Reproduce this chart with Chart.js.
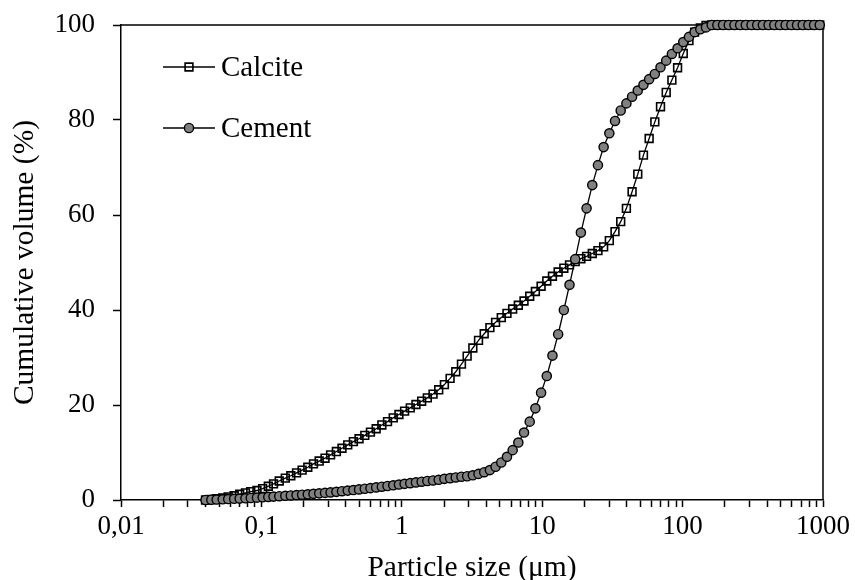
<!DOCTYPE html>
<html lang="en">
<head>
<meta charset="UTF-8">
<title>Cumulative volume - Calcite / Cement</title>
<script src="https://cdn.jsdelivr.net/npm/chart.js"></script>
<style>
  html, body { margin: 0; padding: 0; background: #fff; }
  #wrap { width: 855px; height: 580px; }
</style>
</head>
<body>
<div id="wrap"><canvas id="psdChart" width="855" height="580"></canvas></div>
<script>
// particle size classes (um)
const sizes = [
  0.04, 0.044, 0.048, 0.053, 0.058, 0.064, 0.070, 0.077, 0.084, 0.093,
  0.102, 0.112, 0.122, 0.134, 0.148, 0.162, 0.178, 0.195, 0.214, 0.235,
  0.258, 0.284, 0.311, 0.342, 0.375, 0.412, 0.452, 0.496, 0.545, 0.598,
  0.657, 0.721, 0.791, 0.869, 0.954,
  1.047, 1.149, 1.261, 1.385, 1.520, 1.669, 1.832, 2.011, 2.208, 2.423,
  2.660, 2.920, 3.206, 3.519, 3.863, 4.241, 4.656, 5.111, 5.611, 6.159,
  6.761, 7.422, 8.148, 8.944, 9.819,
  10.78, 11.83, 12.99, 14.26, 15.65, 17.18, 18.86, 20.71, 22.73, 24.95,
  27.39, 30.07, 33.01, 36.24, 39.78, 43.67, 47.94, 52.62, 57.77, 63.41,
  69.61, 76.42, 83.89, 92.09,
  101.1, 111.0, 121.8, 133.7, 146.8, 161.2, 176.8, 194.2, 213.2, 234.1,
  256.9, 282.1, 309.6, 339.9, 373.1, 409.6, 449.7, 493.6, 541.9, 594.9,
  653.0, 716.9, 786.9, 863.9, 948.3
];

const calcite = [
  0.0, 0.1, 0.25, 0.45, 0.65, 0.9, 1.2, 1.5, 1.75, 2.0,
  2.4, 2.9, 3.4, 4.0, 4.6, 5.1, 5.7, 6.3, 6.9, 7.6,
  8.2, 8.8, 9.5, 10.2, 10.9, 11.6, 12.3, 12.9, 13.6, 14.3,
  15.0, 15.8, 16.5, 17.3, 18.0,
  18.7, 19.4, 20.1, 20.8, 21.5, 22.3, 23.2, 24.3, 25.6, 27.0,
  28.6, 30.3, 32.0, 33.6, 35.0, 36.3, 37.4, 38.4, 39.3, 40.2,
  41.0, 41.9, 42.9, 43.9, 45.0,
  46.1, 47.1, 48.0, 48.8, 49.5, 50.2, 50.8, 51.3, 51.9, 52.5,
  53.3, 54.6, 56.5, 58.6, 61.4, 64.9, 68.6, 72.6, 76.1, 79.6,
  82.8, 85.8, 88.4, 91.0,
  94.0, 96.7, 98.5, 99.4, 99.9, 100, 100, 100, 100, 100,
  100, 100, 100, 100, 100, 100, 100, 100, 100, 100,
  100, 100, 100, 100, 100
];

const cement = [
  0.0, 0.05, 0.1, 0.15, 0.2, 0.25, 0.3, 0.36, 0.42, 0.5,
  0.57, 0.65, 0.72, 0.8, 0.88, 0.96, 1.04, 1.12, 1.2, 1.3,
  1.4, 1.5, 1.6, 1.72, 1.85, 1.98, 2.1, 2.23, 2.37, 2.5,
  2.65, 2.8, 2.95, 3.1, 3.25,
  3.4, 3.55, 3.7, 3.85, 4.0, 4.12, 4.25, 4.45, 4.6, 4.75,
  4.9, 5.0, 5.2, 5.5, 5.85, 6.3, 7.0, 7.9, 9.1, 10.5,
  12.1, 14.2, 16.5, 19.3, 22.6,
  26.1, 30.4, 34.9, 40.0, 45.3, 50.7, 56.3, 61.4, 66.3, 70.5,
  74.3, 77.2, 79.8, 82.0, 83.5, 84.9, 86.2, 87.4, 88.6, 89.7,
  91.1, 92.5, 93.9, 95.1,
  96.4, 97.5, 98.5, 99.1, 99.5, 100, 100, 100, 100, 100,
  100, 100, 100, 100, 100, 100, 100, 100, 100, 100,
  100, 100, 100, 100, 100
];

const seriesNames = ['Calcite', 'Cement'];
const xMajorTicks = [0.01, 0.1, 1, 10, 100, 1000];
const xTickLabels = ['0,01', '0,1', '1', '10', '100', '1000'];
const yTicks = [0, 20, 40, 60, 80, 100];

const serif = "'Liberation Serif', 'Times New Roman', serif";
Chart.defaults.font.family = serif;
Chart.defaults.color = '#000';

function toPoints(values) {
  return sizes.map((s, i) => ({ x: s, y: values[i] }));
}

// frame on top and right of the plot area
const plotFrame = {
  id: 'plotFrame',
  beforeDatasetsDraw(chart) {
    const { ctx, chartArea: a } = chart;
    ctx.save();
    ctx.strokeStyle = '#000';
    ctx.lineWidth = 1.5;
    ctx.beginPath();
    ctx.moveTo(a.left, a.top);
    ctx.lineTo(a.right, a.top);
    ctx.lineTo(a.right, a.bottom);
    ctx.stroke();
    ctx.restore();
  }
};

// legend drawn inside the plot, top left
const insideLegend = {
  id: 'insideLegend',
  afterDraw(chart) {
    const { ctx, chartArea: a } = chart;
    const x0 = a.left + 42;
    let y = a.top + 42;
    ctx.save();
    chart.data.datasets.forEach(ds => {
      ctx.strokeStyle = '#000';
      ctx.lineWidth = 1.3;
      ctx.beginPath();
      ctx.moveTo(x0, y);
      ctx.lineTo(x0 + 52, y);
      ctx.stroke();

      const mx = x0 + 26;
      ctx.fillStyle = ds.pointBackgroundColor;
      ctx.lineWidth = ds.pointBorderWidth;
      ctx.beginPath();
      if (ds.pointStyle === 'rect') {
        const h = ds.pointRadius * Math.SQRT1_2;
        ctx.rect(mx - h, y - h, 2 * h, 2 * h);
      } else {
        ctx.arc(mx, y, ds.pointRadius, 0, Math.PI * 2);
      }
      ctx.fill();
      ctx.stroke();

      ctx.fillStyle = '#000';
      ctx.font = '29px ' + serif;
      ctx.textBaseline = 'middle';
      ctx.textAlign = 'left';
      ctx.fillText(ds.label, x0 + 58, y + 1);
      y += 61;
    });
    ctx.restore();
  }
};

new Chart(document.getElementById('psdChart'), {
  type: 'line',
  data: {
    datasets: [
      {
        label: seriesNames[0],
        data: toPoints(calcite),
        order: 2,
        borderColor: '#000',
        borderWidth: 1.3,
        pointStyle: 'rect',
        pointRadius: 5.5,
        pointBackgroundColor: 'rgba(255,255,255,0)',
        pointBorderColor: '#000',
        pointBorderWidth: 1.6,
        clip: false
      },
      {
        label: seriesNames[1],
        data: toPoints(cement),
        order: 1,
        borderColor: '#000',
        borderWidth: 1.3,
        pointStyle: 'circle',
        pointRadius: 4.6,
        pointBackgroundColor: '#808080',
        pointBorderColor: '#000',
        pointBorderWidth: 1.4,
        clip: false
      }
    ]
  },
  options: {
    responsive: false,
    animation: false,
    devicePixelRatio: 1,
    layout: { padding: { top: 25, right: 32, bottom: 0, left: 0 } },
    plugins: {
      legend: { display: false },
      tooltip: { enabled: false }
    },
    scales: {
      x: {
        type: 'logarithmic',
        min: 0.01,
        max: 1000,
        afterBuildTicks(scale) {
          const t = [];
          xMajorTicks.forEach((v, i) => {
            t.push({ value: v, major: true });
            if (i < xMajorTicks.length - 1) {
              for (let k = 2; k <= 9; k++) t.push({ value: v * k, major: false });
            }
          });
          scale.ticks = t;
        },
        afterFit(scale) { scale.height = 80; },
        grid: { drawOnChartArea: false, tickLength: 7, tickColor: '#000', tickWidth: 1.5 },
        border: { color: '#000', width: 1.5 },
        ticks: {
          autoSkip: false,
          maxRotation: 0,
          padding: 4,
          font: { size: 27 },
          color: '#000',
          callback(value) {
            const i = xMajorTicks.indexOf(value);
            return i >= 0 ? xTickLabels[i] : '';
          }
        },
        title: {
          display: true,
          text: 'Particle size (μm)',
          color: '#000',
          font: { size: 29.5, lineHeight: 0.8 },
          padding: 0
        }
      },
      y: {
        min: 0,
        max: 100,
        afterBuildTicks(scale) { scale.ticks = yTicks.map(v => ({ value: v })); },
        afterFit(scale) {
          scale.width = 121;
          scale.paddingTop = 0;
          scale.paddingBottom = 0;
        },
        grid: { drawOnChartArea: false, tickLength: 8, tickColor: '#000', tickWidth: 1.5 },
        border: { color: '#000', width: 1.5 },
        ticks: { padding: 18, font: { size: 27 }, color: '#000' },
        title: {
          display: true,
          text: 'Cumulative volume (%)',
          color: '#000',
          font: { size: 29.5, lineHeight: 1.2 },
          padding: { top: 8, bottom: 0 }
        }
      }
    }
  },
  plugins: [plotFrame, insideLegend]
});
</script>
</body>
</html>
